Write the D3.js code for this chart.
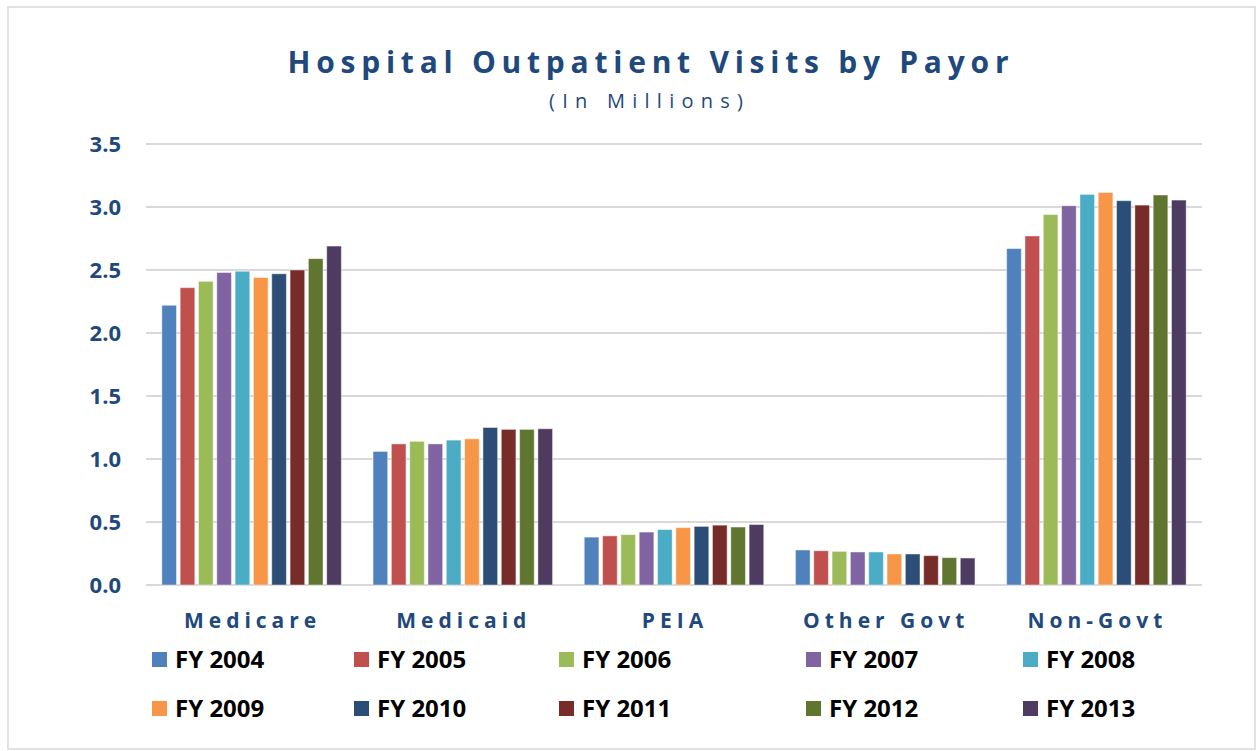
<!DOCTYPE html>
<html>
<head>
<meta charset="utf-8">
<script src="https://cdn.jsdelivr.net/npm/d3@7"></script>
<style>
  body { margin: 0; background: #fff; }
  svg { display: block; }
  text { font-variant-ligatures: none; }
</style>
</head>
<body>
<svg class="chart"></svg>
<script>
// payor categories and fiscal years
var payors = ['Medicare', 'Medicaid', 'PEIA', 'Other Govt', 'Non-Govt'];
var years = ['FY 2004', 'FY 2005', 'FY 2006', 'FY 2007', 'FY 2008',
             'FY 2009', 'FY 2010', 'FY 2011', 'FY 2012', 'FY 2013'];

// visits in millions, one array per payor, in year order
var medicare  = [2.22, 2.36, 2.41, 2.48, 2.49, 2.44, 2.47, 2.50, 2.59, 2.69];
var medicaid  = [1.06, 1.12, 1.14, 1.12, 1.15, 1.16, 1.25, 1.235, 1.235, 1.24];
var peia      = [0.38, 0.39, 0.40, 0.42, 0.44, 0.455, 0.465, 0.475, 0.46, 0.48];
var otherGovt = [0.278, 0.272, 0.267, 0.262, 0.262, 0.246, 0.246, 0.233, 0.217, 0.214];
var nonGovt   = [2.67, 2.77, 2.94, 3.01, 3.10, 3.115, 3.05, 3.015, 3.095, 3.055];

var yTicks = [0, 0.5, 1.0, 1.5, 2.0, 2.5, 3.0, 3.5];

var colors = ['#4F81BD', '#C0504D', '#9BBB59', '#8064A2', '#4BACC6',
              '#F79646', '#2C4D75', '#772C2A', '#5F7530', '#4D3B62'];

var values = [medicare, medicaid, peia, otherGovt, nonGovt];

var svgwidth = 1257;
var svgheight = 751;

var margins = {
  top: 144,
  bottom: 166,
  left: 146,
  right: 55
};

var width = svgwidth - margins.left - margins.right;
var height = svgheight - margins.top - margins.bottom;

var navy = '#1F497D';
var font = '"Open Sans", Lato, sans-serif';

var svg = d3.select('.chart').attr('width', svgwidth).attr('height', svgheight);

// outer frame
svg.append('rect')
   .attr('x', 8).attr('y', 7)
   .attr('width', 1247).attr('height', 742)
   .attr('fill', 'white')
   .attr('stroke', '#d9d9d9')
   .attr('stroke-width', 1.5);

var xscale = d3.scaleBand().domain(payors).range([0, width])
               .paddingInner(0.15).paddingOuter(0.075);
var x1 = d3.scaleBand().domain(years).range([0, xscale.bandwidth()])
           .paddingInner(0.2).paddingOuter(0);
var yscale = d3.scaleLinear().domain([0, 3.5]).range([height, 0]);
var color = d3.scaleOrdinal().domain(years).range(colors);

var plot = svg.append('g')
              .attr('transform', 'translate(' + margins.left + ',' + margins.top + ')');

// gridlines
plot.selectAll('.grid').data(yTicks).enter().append('line')
    .attr('x1', 0).attr('x2', width)
    .attr('y1', function(d){ return yscale(d); })
    .attr('y2', function(d){ return yscale(d); })
    .attr('stroke', '#d9d9d9')
    .attr('stroke-width', 2);

// y tick labels
plot.selectAll('.ytick').data(yTicks).enter().append('text')
    .attr('x', -25)
    .attr('y', function(d){ return yscale(d); })
    .attr('dy', '0.36em')
    .attr('text-anchor', 'end')
    .style('font-family', font)
    .style('font-weight', 'bold')
    .style('font-size', '22px')
    .attr('fill', navy)
    .text(function(d){ return d3.format('.1f')(d); });

// bars
var groups = plot.selectAll('.payor').data(payors).enter().append('g')
                 .attr('transform', function(d){ return 'translate(' + xscale(d) + ',0)'; });

groups.selectAll('rect')
      .data(function(d, i){
        return values[i].map(function(v, j){ return {year: years[j], value: v}; });
      })
      .enter().append('rect')
      .attr('x', function(d){ return x1(d.year); })
      .attr('y', function(d){ return yscale(d.value); })
      .attr('width', x1.bandwidth())
      .attr('height', function(d){ return yscale(0) - yscale(d.value); })
      .attr('fill', function(d){ return color(d.year); })
      .attr('stroke', 'rgba(255,255,255,0.45)')
      .attr('stroke-width', 1);

// category labels
plot.selectAll('.xlabel').data(payors).enter().append('text')
    .attr('x', function(d){ return xscale(d) + xscale.bandwidth() / 2 + 1; })
    .attr('y', height + 43)
    .attr('text-anchor', 'middle')
    .style('font-family', font)
    .style('font-weight', 'bold')
    .style('font-size', '21px')
    .style('letter-spacing', '5px')
    .attr('fill', navy)
    .text(function(d){ return d; });

// title
svg.append('text')
   .attr('x', 648).attr('y', 73)
   .attr('text-anchor', 'middle')
   .attr('textLength', 721)
   .attr('lengthAdjust', 'spacing')
   .style('font-family', font)
   .style('font-weight', 'bold')
   .style('font-size', '30px')
   .attr('fill', navy)
   .text('Hospital Outpatient Visits by Payor');

svg.append('text')
   .attr('x', 646).attr('y', 108)
   .attr('text-anchor', 'middle')
   .attr('textLength', 194)
   .attr('lengthAdjust', 'spacing')
   .style('font-family', font)
   .style('font-size', '20px')
   .attr('fill', navy)
   .text('(In Millions)');

// legend, two rows of five
var legendCols = [152, 354, 559, 806, 1023];
var legendRows = [652, 701];

var legend = svg.selectAll('.legend').data(years).enter().append('g')
                .attr('transform', function(d, i){
                  return 'translate(' + legendCols[i % 5] + ',' + legendRows[Math.floor(i / 5)] + ')';
                });

legend.append('rect')
      .attr('width', 15).attr('height', 15)
      .attr('fill', function(d){ return color(d); });

legend.append('text')
      .attr('x', 23).attr('y', 16)
      .style('font-family', font)
      .style('font-weight', 'bold')
      .style('font-size', '24px')
      .attr('fill', 'black')
      .text(function(d){ return d; });
</script>
</body>
</html>
